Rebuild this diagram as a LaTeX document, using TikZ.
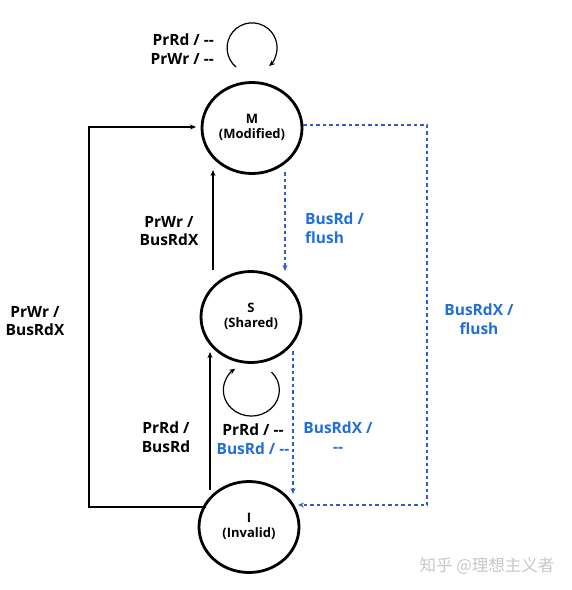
\documentclass[tikz,border=0pt]{standalone}
\usepackage{fontspec}
\setmainfont{Open Sans}
\newfontfamily\cjk{Noto Sans CJK SC}
\usetikzlibrary{arrows.meta,shapes.geometric}
\definecolor{tblue}{HTML}{1F6FD8}
\definecolor{lblue}{HTML}{2F5FC0}
\newcommand{\dd}{-{}-}
\newcommand{\stxt}[2]{\raisebox{6pt}{\begin{tabular}{@{}c@{}}#1\\[-1pt]#2\end{tabular}}}
\begin{document}
\begin{tikzpicture}[x=1pt,y=-1pt,
  state/.style={ellipse,draw,line width=2.8pt,minimum width=100pt,minimum height=91pt,inner sep=0pt,font=\fontsize{13}{15.5}\selectfont\bfseries},
  lbl/.style={align=center,font=\fontsize{15.5}{18.5}\selectfont\bfseries,inner sep=0pt},
  solidarr/.style={line width=1.3pt,-{Stealth[length=6pt,width=5pt]}},
  dasharr/.style={lblue,line width=1.6pt,dash pattern=on 3.5pt off 3pt,-{Stealth[length=6pt,width=5pt]}}]
\useasboundingbox (0,0) rectangle (572,590);
\node[state] (M) at (252,128) {\stxt{M}{(Modified)}};
\node[state] (S) at (251,317) {\stxt{S}{(Shared)}};
\node[state] (I) at (249,527) {\stxt{I}{(Invalid)}};
% self loops
\coordinate (ml1) at (236,67);
\draw[solidarr,line width=1.2pt] (ml1) arc[start angle=130,end angle=407,radius=25];
\coordinate (sl1) at (271.5,372);
\draw[solidarr,line width=1.2pt] (sl1) arc[start angle=-44,end angle=235,x radius=28,y radius=26];
% vertical transitions
\coordinate (is0) at (210,490);
\coordinate (is1) at (210,352);
\draw[solidarr] (is0) -- (is1);
\coordinate (sm0) at (213,270);
\coordinate (sm1) at (213,170);
\draw[solidarr] (sm0) -- (sm1);
\coordinate (ms0) at (285,172);
\coordinate (ms1) at (285,271);
\draw[dasharr] (ms0) -- (ms1);
\coordinate (si0) at (293,351);
\coordinate (si1) at (293,494);
\draw[dasharr] (si0) -- (si1);
% outer
\coordinate (mi0) at (303,125);
\coordinate (mi1) at (298,505);
\draw[dasharr] (mi0) -- (427,125) -- (427,505) -- (mi1);
\coordinate (im0) at (206,507);
\coordinate (im1) at (196,127);
\draw[solidarr] (im0) -- (89,507) -- (89,127) -- (im1);
% labels
\node[lbl,align=right,anchor=east] (lm) at (214,49) {PrRd / \dd\\PrWr / \dd};
\node[lbl] (lsm) at (169,231) {PrWr /\\BusRdX};
\node[lbl,tblue,align=left,anchor=west] (lms) at (305,228) {BusRd /\\flush};
\node[lbl] (lim) at (35,321) {PrWr /\\BusRdX};
\node[lbl,tblue] (lmi) at (479,319) {BusRdX /\\flush};
\node[lbl] (lis) at (166,437) {PrRd /\\BusRd};
\node[lbl,align=center] (lss) at (253,439) {PrRd / \dd\\\textcolor{tblue}{BusRd / \dd}};
\node[lbl,tblue] (lsi) at (338,437) {BusRdX /\\\dd};
\node[font=\cjk\fontsize{16.5}{18}\selectfont,text=black!22,anchor=center] (wm) at (487,566) {知乎 @理想主义者};
\end{tikzpicture}
\end{document}
